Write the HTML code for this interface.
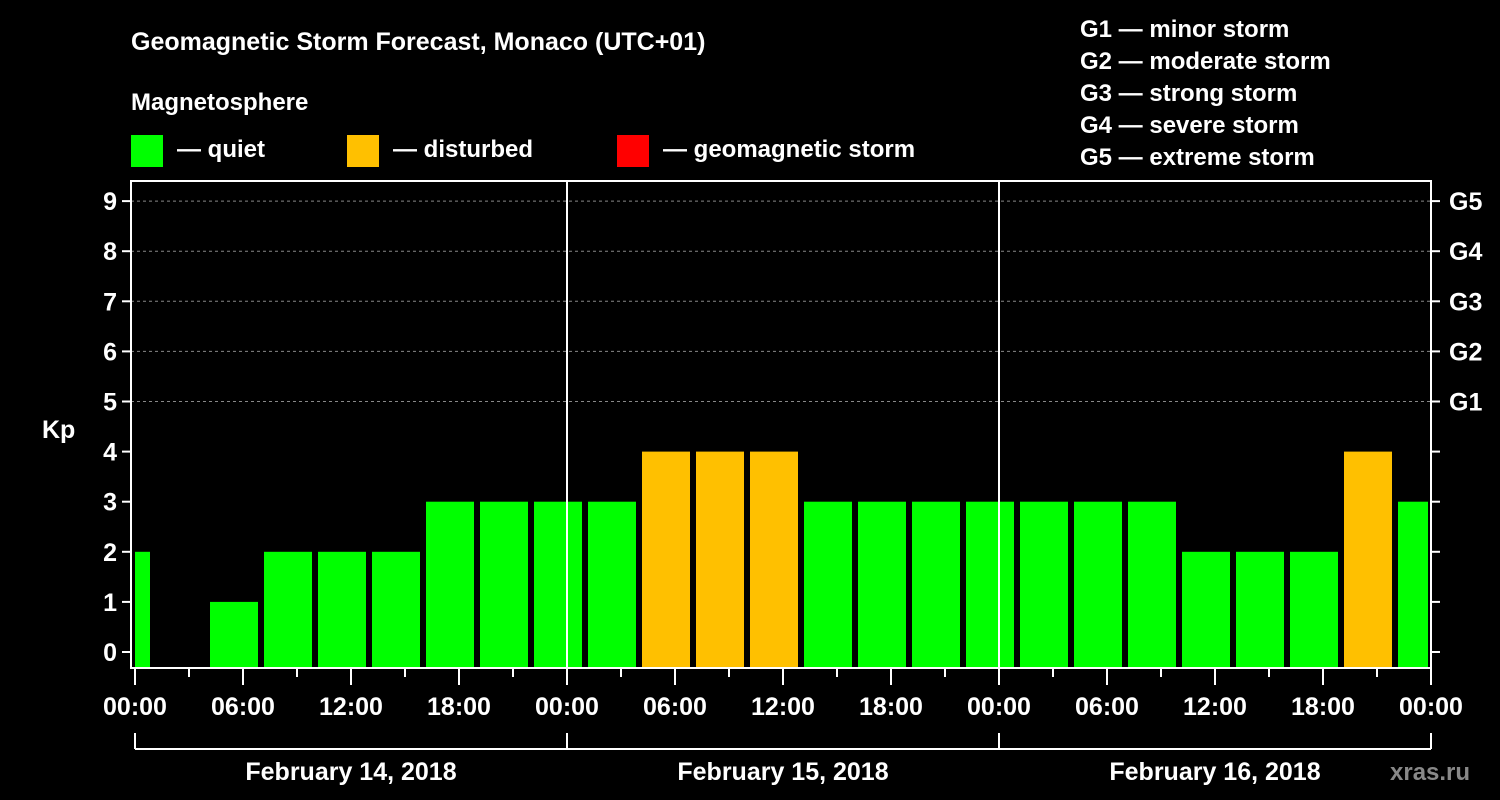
<!DOCTYPE html>
<html><head><meta charset="utf-8"><style>
html,body{margin:0;padding:0;background:#000;}
svg{display:block;font-family:"Liberation Sans",sans-serif;font-weight:bold;}
</style></head><body>
<svg id="chart" width="1500" height="800" viewBox="0 0 1500 800">
<rect width="1500" height="800" fill="#000"/>
<text x="131" y="50" fill="#fff" font-size="25">Geomagnetic Storm Forecast, Monaco (UTC+01)</text>
<text x="131" y="110" fill="#fff" font-size="24">Magnetosphere</text>
<g><rect x="131" y="135" width="32" height="32" fill="#00ff00"/><text x="177" y="157" fill="#fff" font-size="24">— quiet</text></g>
<g><rect x="347" y="135" width="32" height="32" fill="#ffc000"/><text x="393" y="157" fill="#fff" font-size="24">— disturbed</text></g>
<g><rect x="617" y="135" width="32" height="32" fill="#ff0000"/><text x="663" y="157" fill="#fff" font-size="24">— geomagnetic storm</text></g>
<g fill="#fff" font-size="24">
<text x="1080" y="37">G1 — minor storm</text>
<text x="1080" y="69">G2 — moderate storm</text>
<text x="1080" y="101">G3 — strong storm</text>
<text x="1080" y="133">G4 — severe storm</text>
<text x="1080" y="165">G5 — extreme storm</text>
</g>
<text x="42" y="438" fill="#fff" font-size="25">Kp</text>
<g id="grid"></g><g id="bars"></g><g id="axes"></g>
<text x="1390" y="780" fill="#888" font-size="24">xras.ru</text>
</svg>
<script>
const kpValues = [2,0,1,2,2,2,3,3,3, 3,4,4,4,3,3,3,3, 3,3,3,2,2,2,4,3];
const startHour = -2;
const yTicks = [0,1,2,3,4,5,6,7,8,9];
const gLabels = ["G1","G2","G3","G4","G5"];
const xTickLabels = ["00:00","06:00","12:00","18:00","00:00","06:00","12:00","18:00","00:00","06:00","12:00","18:00","00:00"];
const dayLabels = ["February 14, 2018","February 15, 2018","February 16, 2018"];

const NS="http://www.w3.org/2000/svg";
const L=131,R=1431,T=181,B=668,X0=135;
const x=h=>X0+h*18;
const y=v=>652-v*50.1;
function mk(tag,attrs,parent){const e=document.createElementNS(NS,tag);for(const k in attrs)e.setAttribute(k,attrs[k]);parent.appendChild(e);return e;}
const grid=document.getElementById('grid'),bars=document.getElementById('bars'),axes=document.getElementById('axes');
[5,6,7,8,9].forEach(v=>{const l=mk('line',{x1:L,x2:R,y1:y(v),y2:y(v),stroke:'#888','stroke-dasharray':'3,3','stroke-width':1},grid);

});
kpValues.forEach((v,i)=>{
 if(v<=0)return;
 const h=startHour+i*3;
 let x1=x(h)+3,x2=x(h+3)-3;
 x1=Math.max(x1,L+4);x2=Math.min(x2,R-3);
 const c=v>=5?'#ff0000':(v>=4?'#ffc000':'#00ff00');
 const r=mk('rect',{x:x1,y:y(v),width:x2-x1,height:B-y(v),fill:c},bars);
 
 
});
const frame=mk('rect',{x:L,y:T,width:R-L,height:B-T,fill:'none',stroke:'#fff','stroke-width':2},axes);


[1,2].forEach(d=>{const l=mk('line',{x1:x(24*d),x2:x(24*d),y1:T,y2:B,stroke:'#fff','stroke-width':2},axes);

});
yTicks.forEach(v=>{
 mk('line',{x1:L-9,x2:L,y1:y(v),y2:y(v),stroke:'#fff','stroke-width':2},axes);
 mk('line',{x1:R,x2:R+9,y1:y(v),y2:y(v),stroke:'#fff','stroke-width':2},axes);
 const t=mk('text',{x:L-14,y:y(v)+9,fill:'#fff','font-size':25,'text-anchor':'end'},axes);t.textContent=v;
 
 
});
gLabels.forEach((g,i)=>{const t=mk('text',{x:R+18,y:y(5+i)+9,fill:'#fff','font-size':25},axes);t.textContent=g;
 
 });
for(let h=0;h<=72;h+=3){const big=h%6===0;mk('line',{x1:x(h),x2:x(h),y1:B+1,y2:B+(big?17:9),stroke:'#fff','stroke-width':2},axes);}
xTickLabels.forEach((s,i)=>{const t=mk('text',{x:x(i*6),y:715,fill:'#fff','font-size':25,'text-anchor':'middle'},axes);t.textContent=s;
 
 });
mk('line',{x1:x(0),x2:x(72),y1:749,y2:749,stroke:'#fff','stroke-width':2},axes);
[0,1,2,3].forEach(d=>mk('line',{x1:x(24*d),x2:x(24*d),y1:733,y2:749,stroke:'#fff','stroke-width':2},axes));
dayLabels.forEach((s,i)=>{const t=mk('text',{x:x(24*i+12),y:780,fill:'#fff','font-size':25,'text-anchor':'middle'},axes);t.textContent=s;
 
 });
</script>
</body></html>
